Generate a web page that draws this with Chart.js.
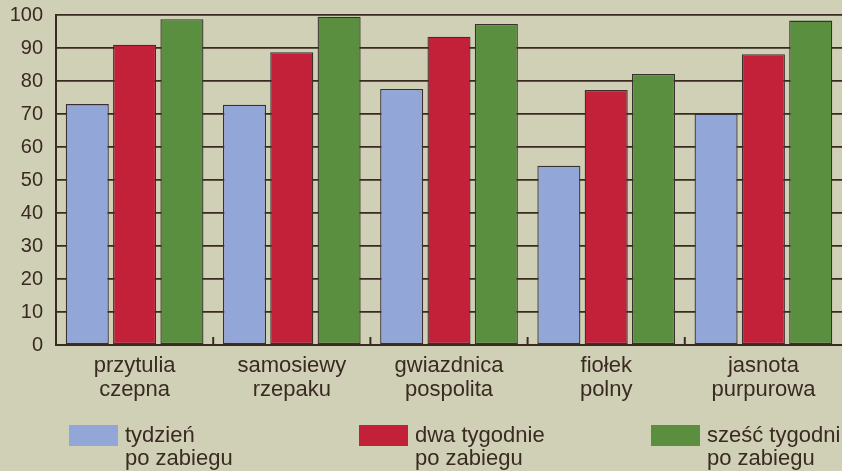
<!DOCTYPE html>
<html>
<head>
<meta charset="utf-8">
<script src="https://cdn.jsdelivr.net/npm/chart.js@4"></script>
<style>
  html, body { margin: 0; padding: 0; background: #cfd0b5; }
  #wrap { width: 842px; height: 471px; }
</style>
</head>
<body>
<div id="wrap"><canvas id="c" width="842" height="471"></canvas></div>
<script>
// ---- data ----
const categories = [
  ['przytulia', 'czepna'],
  ['samosiewy', 'rzepaku'],
  ['gwiazdnica', 'pospolita'],
  ['fiołek', 'polny'],
  ['jasnota', 'purpurowa']
];
const seriesNames = [
  ['tydzień', 'po zabiegu'],
  ['dwa tygodnie', 'po zabiegu'],
  ['sześć tygodni', 'po zabiegu']
];
const oneWeek  = [73.0, 72.8, 77.6, 54.3, 70.0];
const twoWeeks = [91.0, 88.7, 93.4, 77.3, 88.1];
const sixWeeks = [98.7, 99.5, 97.3, 82.1, 98.3];
const yMin = 0, yMax = 100, yStep = 10;

// ---- styles ----
const BG = '#cfd0b5';
const INK = '#3a2a22';
const colors = ['#93a6d8', '#c3203a', '#5a8f40'];
const FONT = '"Liberation Sans", Arial, Helvetica, sans-serif';

const bgPlugin = {
  id: 'bg',
  beforeDraw(chart) {
    const ctx = chart.ctx;
    ctx.save();
    ctx.fillStyle = BG;
    ctx.fillRect(0, 0, chart.width, chart.height);
    ctx.restore();
  }
};

// small inner ticks at category boundaries
const boundaryTicks = {
  id: 'boundaryTicks',
  afterDatasetsDraw(chart) {
    const x = chart.scales.x, area = chart.chartArea, ctx = chart.ctx;
    ctx.save();
    ctx.strokeStyle = INK;
    ctx.lineWidth = 2;
    for (let i = 0; i < categories.length - 1; i++) {
      const px = (x.getPixelForValue(i) + x.getPixelForValue(i + 1)) / 2;
      ctx.beginPath();
      ctx.moveTo(px, area.bottom);
      ctx.lineTo(px, area.bottom - 8);
      ctx.stroke();
    }
    ctx.restore();
  }
};

// multi-line legend at the bottom
const bottomLegend = {
  id: 'bottomLegend',
  afterDraw(chart, args, opts) {
    const ctx = chart.ctx;
    ctx.save();
    chart.data.datasets.forEach((ds, i) => {
      const x0 = opts.xs[i];
      const y0 = opts.boxTop;
      ctx.fillStyle = ds.backgroundColor;
      ctx.fillRect(x0, y0, opts.boxW, opts.boxH);
      ctx.fillStyle = INK;
      ctx.font = opts.font;
      ctx.textBaseline = 'alphabetic';
      ctx.textAlign = 'left';
      ds.label.forEach((line, j) => {
        ctx.fillText(line, x0 + opts.boxW + 7, opts.baseline + j * opts.lineGap);
      });
    });
    ctx.restore();
  }
};

new Chart(document.getElementById('c'), {
  type: 'bar',
  data: {
    labels: categories,
    datasets: [
      { label: seriesNames[0], data: oneWeek,  backgroundColor: colors[0] },
      { label: seriesNames[1], data: twoWeeks, backgroundColor: colors[1] },
      { label: seriesNames[2], data: sixWeeks, backgroundColor: colors[2] }
    ]
  },
  options: {
    responsive: false,
    animation: false,
    devicePixelRatio: 1,
    layout: { padding: { top: 15, left: 0, right: 0, bottom: 0 } },
    datasets: {
      bar: {
        categoryPercentage: 0.903,
        barPercentage: 0.91,
        borderColor: '#3b3030',
        borderWidth: 1.3,
        borderSkipped: false
      }
    },
    plugins: {
      legend: { display: false },
      tooltip: { enabled: false },
      bottomLegend: {
        xs: [69, 359, 651],
        boxTop: 425,
        boxW: 49,
        boxH: 21,
        baseline: 442,
        lineGap: 23,
        font: '22px ' + FONT
      }
    },
    scales: {
      x: {
        grid: { display: true, drawOnChartArea: false, drawTicks: false },
        border: { display: true, color: INK, width: 2 },
        ticks: {
          color: INK,
          font: { family: FONT, size: 22, lineHeight: 1.1 },
          padding: 9,
          maxRotation: 0,
          autoSkip: false
        },
        afterFit(scale) { scale.height = 126; scale.paddingLeft = 0; scale.paddingRight = 0; }
      },
      y: {
        min: yMin, max: yMax,
        grid: { color: INK, lineWidth: 1.7, drawTicks: false },
        border: { display: true, color: INK, width: 2 },
        ticks: {
          stepSize: yStep,
          color: INK,
          font: { family: FONT, size: 20 },
          padding: 13
        },
        afterFit(scale) { scale.width = 56; scale.paddingTop = 0; scale.paddingBottom = 0; }
      }
    }
  },
  plugins: [bgPlugin, boundaryTicks, bottomLegend]
});
</script>
</body>
</html>
